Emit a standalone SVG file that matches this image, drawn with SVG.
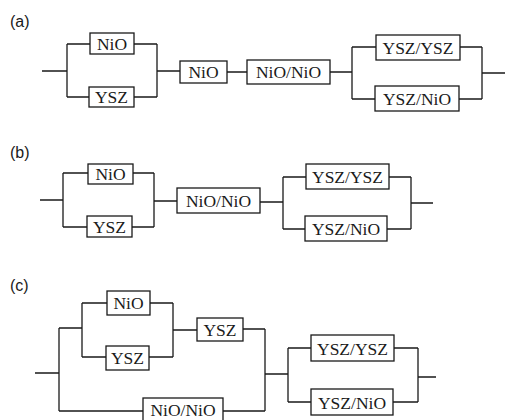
<svg xmlns="http://www.w3.org/2000/svg" width="506" height="420" viewBox="0 0 506 420">
<style>
.bg{fill:#fff}
.box rect{fill:#fff;stroke:#1a1a1a;stroke-width:1.3}
.box text{font-family:"Liberation Serif","Times New Roman",serif;font-size:17.5px;fill:#1a1a1a;text-anchor:middle}
.lbl{font-family:"Liberation Sans",Arial,sans-serif;font-size:16px;fill:#1a1a1a}
#wires path{fill:none;stroke:#1a1a1a;stroke-width:1.3}
</style>
<rect class="bg" x="0" y="0" width="506" height="420"/>
<text class="lbl" x="10" y="27">(a)</text>
<text class="lbl" x="10" y="158">(b)</text>
<text class="lbl" x="10" y="291">(c)</text>
<g id="wires">
<!-- row a -->
<path d="M42 71H67 M67 44V97 M67 44H90 M134 44H157 M67 97H89 M134 97H157 M157 44V97 M157 71H180 M227 72H247 M330 72H352 M352 47V99 M352 47H376 M460 47H482 M352 99H375 M459 99H482 M482 47V99 M482 73H505"/>
<!-- row b -->
<path d="M40 200H63 M63 173V227 M63 173H88 M133 173H154 M63 227H87 M132 227H154 M154 173V227 M154 201H177 M260 202H283 M283 177V229 M283 177H306 M389 177H411 M283 229H305 M387 229H411 M411 177V229 M411 203H433"/>
<!-- row c -->
<path d="M35 373H59 M59 328V411 M59 328H82 M82 303V357 M82 303H107 M150 303H173 M82 357H106 M149 357H173 M173 303V357 M173 330H197 M243 329H265 M59 411H143 M223 411H265 M265 329V411 M265 374H288 M288 348V402 M288 348H311 M394 348H418 M288 402H311 M393 402H418 M418 348V402 M418 377H436"/>
</g>
<!-- row a nodes -->
<g id="a_nio1" class="box"><rect x="90" y="33" width="44" height="21"/><text x="112" y="49.5">NiO</text></g>
<g id="a_ysz" class="box"><rect x="89" y="87" width="45" height="20"/><text x="111.5" y="103">YSZ</text></g>
<g id="a_nio2" class="box"><rect x="180" y="61" width="47" height="22"/><text x="203.5" y="78">NiO</text></g>
<g id="a_nionio" class="box"><rect x="247" y="60" width="83" height="24"/><text x="288.5" y="78">NiO/NiO</text></g>
<g id="a_yszysz" class="box"><rect x="376" y="35" width="84" height="25"/><text x="418" y="53.5">YSZ/YSZ</text></g>
<g id="a_ysznio" class="box"><rect x="375" y="86" width="84" height="25"/><text x="417" y="104.5">YSZ/NiO</text></g>
<!-- row b nodes -->
<g id="b_nio" class="box"><rect x="88" y="164" width="45" height="20"/><text x="110.5" y="180">NiO</text></g>
<g id="b_ysz" class="box"><rect x="87" y="216" width="45" height="21"/><text x="109.5" y="232.5">YSZ</text></g>
<g id="b_nionio" class="box"><rect x="177" y="188" width="83" height="25"/><text x="218.5" y="206.5">NiO/NiO</text></g>
<g id="b_yszysz" class="box"><rect x="306" y="164" width="83" height="25"/><text x="347.5" y="182.5">YSZ/YSZ</text></g>
<g id="b_ysznio" class="box"><rect x="305" y="216" width="82" height="25"/><text x="346" y="234.5">YSZ/NiO</text></g>
<!-- row c nodes -->
<g id="c_nio" class="box"><rect x="107" y="291" width="43" height="24"/><text x="128.5" y="308.5">NiO</text></g>
<g id="c_ysz1" class="box"><rect x="106" y="346" width="43" height="24"/><text x="127.5" y="363.5">YSZ</text></g>
<g id="c_ysz2" class="box"><rect x="197" y="318" width="46" height="23"/><text x="220" y="335.5">YSZ</text></g>
<g id="c_nionio" class="box"><rect x="143" y="398" width="80" height="24"/><text x="183" y="416">NiO/NiO</text></g>
<g id="c_yszysz" class="box"><rect x="311" y="335" width="83" height="26"/><text x="352.5" y="354.5">YSZ/YSZ</text></g>
<g id="c_ysznio" class="box"><rect x="311" y="389" width="82" height="26"/><text x="352" y="408.5">YSZ/NiO</text></g>
</svg>
